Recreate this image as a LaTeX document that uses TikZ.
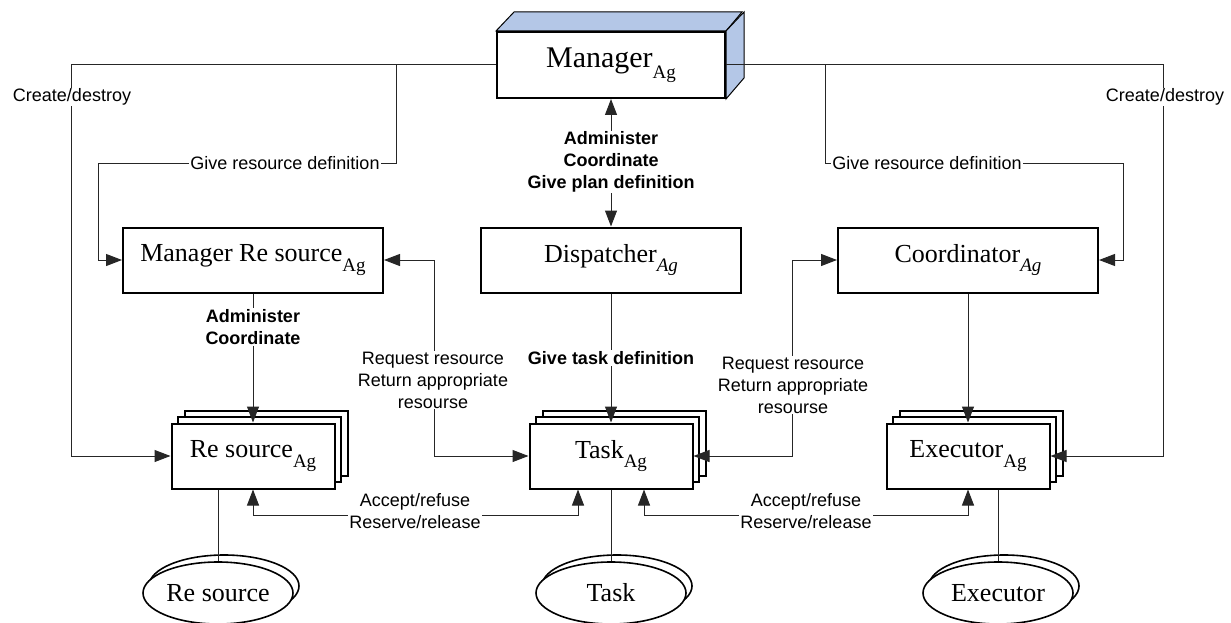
\documentclass[tikz,border=0pt]{standalone}
\usepackage{fontspec}
\setmainfont{Liberation Serif}
\setsansfont{Liberation Sans}
\usetikzlibrary{arrows.meta,shapes.geometric}
\definecolor{mgrblue}{RGB}{180,199,231}
\newcommand\agsub[1]{\raisebox{-0.35em}{\fontsize{19}{19}\selectfont #1}}% lowered "Ag" index

\begin{document}
\begin{tikzpicture}[x=1pt,y=-1pt,% pixel units, y runs down
        >={Triangle[length=16pt,width=12pt]},
        agent/.style={draw,line width=2pt,fill=white,inner sep=0pt,minimum width=260pt,minimum height=65pt,font=\fontsize{26}{30}\selectfont},
        worker/.style={agent,minimum width=163pt},
        store/.style={agent,ellipse,line width=1.6pt,minimum width=150pt,minimum height=62pt},
        conn/.style={line width=1pt,black!85},
        lbl/.style={fill=white,inner sep=1pt,align=center,font=\sffamily\fontsize{18}{22}\selectfont},
        blbl/.style={lbl,font=\sffamily\bfseries\fontsize{18}{22}\selectfont}]
\useasboundingbox (0,0) rectangle (1231,623);

% top agent with its 3d faces
\node[agent,minimum width=228pt,minimum height=66pt,font=\fontsize{30}{34}\selectfont] (mgr) at (611,65) {Manager\agsub{Ag}};
\filldraw[fill=mgrblue,line width=1pt] (mgr.north west) -- ++(18,-19) -- ++(228,0) -- (mgr.north east) -- cycle;
\filldraw[fill=mgrblue,line width=1pt] (mgr.north east) -- ++(18,-19) -- ++(0,66) -- (mgr.south east) -- cycle;

\node[agent] (mres) at (253,260) {Manager Re source\agsub{Ag}};
\node[agent] (disp) at (611,260) {Dispatcher\agsub{\itshape Ag}};
\node[agent] (coord) at (968,260) {Coordinator\agsub{\itshape Ag}};

\foreach \nm/\x in {res/253,task/611,exec/968}{ % stacked copies behind each worker
  \node[worker] (\nm-3) at (\x+13,443) {};
  \node[worker] (\nm-2) at (\x+6.5,449.5) {};
}
\node[worker] (res) at (253,456) {Re source\agsub{Ag}};
\node[worker] (task) at (611,456) {Task\agsub{Ag}};
\node[worker] (exec) at (968,456) {Executor\agsub{Ag}};

\foreach \nm/\x in {eres/218,etask/611,eexec/998}{ % second outline of each store
  \node[store] (\nm-b) at (\x+6,586) {};
}
\node[store] (eres) at (218,593) {Re source};
\node[store] (etask) at (611,593) {Task};
\node[store] (eexec) at (998,593) {Executor};

% connectors
\draw[conn,->] (mgr.west) -| ([xshift=-99pt]res.west) -- (res.west);
\draw[conn,->] (mgr.east) -| ([xshift=113pt]exec.east) -- (exec.east);
\draw[conn,->] ([xshift=-100pt]mgr.west) -- ++(0,98) -| ([xshift=-24pt]mres.west) -- (mres.west);
\draw[conn,->] ([xshift=99pt]mgr.east) -- ++(0,98) -| ([xshift=24pt]coord.east) -- (coord.east);
\draw[conn,<->] (mgr.south) -- (disp.north);
\draw[conn,->] (disp.south) -- (task.north);
\draw[conn,->] (mres.south) -- (res.north);
\draw[conn,->] (coord.south) -- (exec.north);
\draw[conn,<->] (mres.east) -- ++(50,0) |- (task.west);
\draw[conn,<->] (coord.west) -- ++(-45,0) |- (task.east);
\draw[conn,<->] (res.south) -- ++(0,26) -| ([xshift=-33pt]task.south);
\draw[conn,<->] ([xshift=33pt]task.south) -- ++(0,26) -| (exec.south);
\draw[conn] ([xshift=-35pt]res.south) -- (eres.north);
\draw[conn] (task.south) -- (etask.north);
\draw[conn] ([xshift=30pt]exec.south) -- (eexec.north);

% labels, white so they break the lines
\node[lbl] (cd-l) at (72,97) {Create/destroy};
\node[lbl] (cd-r) at (1165,97) {Create/destroy};
\node[lbl] (grd-l) at (285,163) {Give resource definition};
\node[lbl] (grd-r) at (927,163) {Give resource definition};
\node[blbl] (adm-m) at (611,162) {Administer\\Coordinate\\Give plan definition};
\node[blbl] (gtd) at (611,358) {Give task definition};
\node[blbl] (adm-r) at (253,327) {Administer\\Coordinate};
\node[lbl] (req-l) at (433,380) {Request resource\\Return appropriate\\resourse};
\node[lbl] (req-r) at (793,385) {Request resource\\Return appropriate\\resourse};
\node[lbl] (acc-l) at (415,511) {Accept/refuse\\Reserve/release};
\node[lbl] (acc-r) at (806,511) {Accept/refuse\\Reserve/release};
\end{tikzpicture}
\end{document}
